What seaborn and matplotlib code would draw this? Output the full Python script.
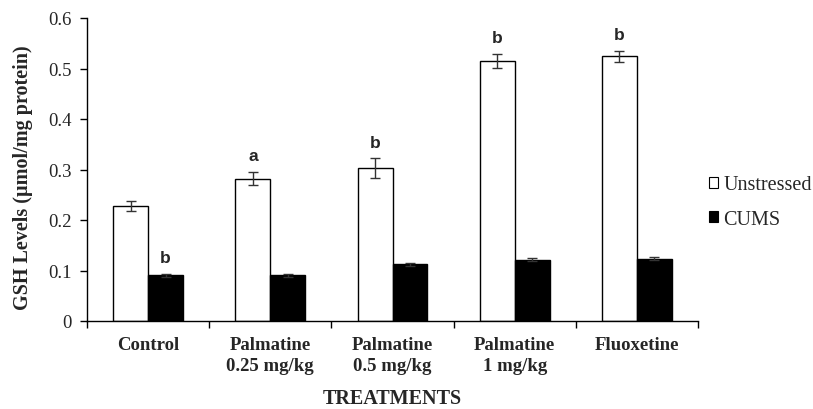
import matplotlib
matplotlib.use("Agg")
import matplotlib.pyplot as plt
import seaborn as sns
import pandas as pd
import numpy as np
from matplotlib.patches import Patch

categories = ["Control", "Palmatine\n0.25 mg/kg", "Palmatine\n0.5 mg/kg", "Palmatine\n1 mg/kg", "Fluoxetine"]
unstressed = [0.228, 0.282, 0.303, 0.515, 0.524]
unstressed_err = [0.010, 0.013, 0.019, 0.014, 0.011]
cums = [0.091, 0.091, 0.112, 0.121, 0.123]
cums_err = [0.003, 0.003, 0.003, 0.003, 0.003]
letters_unstressed = ["", "a", "b", "b", "b"]
letters_cums = ["b", "", "", "", ""]
series = ["Unstressed", "CUMS"]
ytick_labels = ["0", "0.1", "0.2", "0.3", "0.4", "0.5", "0.6"]

sns.set_theme(style="white")
plt.rcParams["font.family"] = ["Liberation Serif", "DejaVu Serif"]

df = pd.DataFrame({
    "Treatment": categories * 2,
    "Group": [series[0]] * 5 + [series[1]] * 5,
    "GSH": unstressed + cums,
})

fig = plt.figure(figsize=(8.13, 4.10), dpi=100)
ax = fig.add_axes([87 / 813, 1 - 322 / 410, (698 - 87) / 813, (322 - 19) / 410])

sns.barplot(data=df, x="Treatment", y="GSH", hue="Group", order=categories,
            hue_order=series, palette={"Unstressed": "white", "CUMS": "black"},
            edgecolor="black", linewidth=1.0, width=0.57, errorbar=None, ax=ax, legend=False)

patches = [p for p in ax.patches if p.get_height() > 0]
patches = sorted(patches, key=lambda p: p.get_x())
vals = []
for i in range(5):
    vals.append((unstressed[i], unstressed_err[i], letters_unstressed[i]))
    vals.append((cums[i], cums_err[i], letters_cums[i]))
for p, (v, e, lab) in zip(patches, vals):
    cx = p.get_x() + p.get_width() / 2
    ax.errorbar(cx, v, yerr=e, fmt="none", ecolor="#333333", elinewidth=1.0,
                capsize=3.5, capthick=1.0, zorder=5)
    if lab:
        ax.text(cx, v + e + 0.017, lab, ha="center", va="bottom",
                fontsize=12.5, fontweight="bold", family=["Liberation Sans", "DejaVu Sans"])

ax.set_ylim(0, 0.6)
ax.set_xlim(-0.5, 4.5)
ax.set_yticks(np.arange(0, 0.61, 0.1))
ax.set_yticklabels(ytick_labels, fontsize=13.5)
ax.set_xticks(np.arange(-0.5, 5, 1.0))
ax.set_xticklabels([])
ax.tick_params(axis="x", which="major", direction="out", length=5, width=1, color="black", bottom=True)
ax.tick_params(axis="y", direction="out", length=5, width=1, color="black", left=True, pad=6)
for i, c in enumerate(categories):
    ax.annotate(c, xy=(i, 0), xycoords=("data", "axes fraction"), xytext=(0, -11),
                textcoords="offset points", ha="center", va="top", fontsize=13.5,
                fontweight="bold", linespacing=1.25)
ax.set_xlabel("")
ax.set_ylabel("GSH Levels (µmol/mg protein)", fontsize=14.5, fontweight="bold")
ax.yaxis.set_label_coords(-0.088, 0.475)
fig.text((87 + 698) / 2 / 813, 1 - 399 / 410, "TREATMENTS", ha="center", va="center",
         fontsize=14.5, fontweight="bold")

for s in ["top", "right"]:
    ax.spines[s].set_visible(False)
for s in ["left", "bottom"]:
    ax.spines[s].set_color("black")
    ax.spines[s].set_linewidth(1.0)

handles = [Patch(facecolor="white", edgecolor="black", linewidth=0.8, label="Unstressed"),
           Patch(facecolor="black", edgecolor="black", linewidth=0.8, label="CUMS")]
fig.legend(handles=handles, loc="center left", bbox_to_anchor=(709 / 813, 1 - 203 / 410),
           frameon=False, fontsize=14.5, handlelength=0.45, handleheight=0.45,
           handletextpad=0.25, labelspacing=0.75, borderpad=0, borderaxespad=0)

fig.savefig("out.png", dpi=100)
